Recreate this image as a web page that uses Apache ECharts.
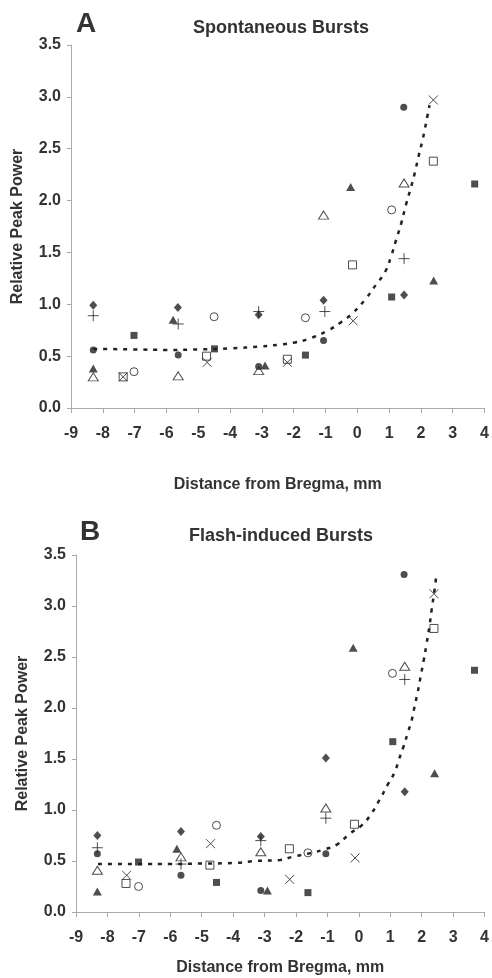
<!DOCTYPE html>
<html>
<head>
<meta charset="utf-8">
<script src="https://cdn.jsdelivr.net/npm/echarts@6/dist/echarts.min.js"></script>
<style>
  html, body { margin: 0; padding: 0; background: #fff; }
  #main { width: 492px; height: 978px; }
</style>
</head>
<body>
<div id="main"></div>
<script>
// axis ticks
var xTicks = [-9, -8, -7, -6, -5, -4, -3, -2, -1, 0, 1, 2, 3, 4];
var yTicks = [0, 0.5, 1, 1.5, 2, 2.5, 3, 3.5];

// panel A: spontaneous bursts
var aFilledCircle = [[-8.3, 0.56], [-5.63, 0.51], [-3.1, 0.40], [-1.06, 0.65], [1.46, 2.90]];
var aFilledDiamond = [[-8.3, 0.99], [-5.64, 0.97], [-3.1, 0.90], [-1.06, 1.04], [1.47, 1.09]];
var aFilledSquare = [[-7.02, 0.70], [-4.49, 0.57], [-1.63, 0.51], [1.08, 1.07], [3.69, 2.16]];
var aFilledTriangle = [[-8.3, 0.38], [-5.79, 0.85], [-2.9, 0.41], [-0.21, 2.13], [2.40, 1.23]];
var aOpenCircle = [[-7.02, 0.35], [-4.5, 0.88], [-1.63, 0.87], [1.08, 1.91]];
var aOpenTriangle = [[-8.3, 0.30], [-5.63, 0.31], [-3.1, 0.36], [-1.06, 1.86], [1.47, 2.17]];
var aOpenSquare = [[-7.36, 0.30], [-4.74, 0.50], [-2.2, 0.47], [-0.15, 1.38], [2.39, 2.38]];
var aCross = [[-7.36, 0.30], [-4.72, 0.44], [-2.2, 0.44], [-0.13, 0.84], [2.39, 2.97]];
var aPlus = [[-8.3, 0.89], [-5.63, 0.81], [-3.1, 0.93], [-1.02, 0.93], [1.47, 1.44]];
var aTrend = [[-8.3, 0.57], [-7, 0.565], [-6, 0.56], [-5, 0.565], [-4, 0.575], [-3, 0.595],
  [-2.47, 0.61], [-2, 0.63], [-1.5, 0.67], [-0.91, 0.75], [-0.5, 0.83], [-0.13, 0.92],
  [0.28, 1.06], [0.59, 1.19], [0.87, 1.31], [1.06, 1.46], [1.22, 1.62], [1.38, 1.78],
  [1.53, 1.96], [1.69, 2.13], [1.81, 2.27], [1.92, 2.42], [2.04, 2.57], [2.13, 2.70],
  [2.2, 2.81], [2.27, 2.92]];

// panel B: flash-induced bursts
var bFilledCircle = [[-8.32, 0.57], [-5.66, 0.36], [-3.12, 0.21], [-1.05, 0.57], [1.44, 3.31]];
var bFilledDiamond = [[-8.32, 0.75], [-5.66, 0.79], [-3.12, 0.74], [-1.05, 1.51], [1.46, 1.18]];
var bFilledSquare = [[-7.01, 0.49], [-4.53, 0.29], [-1.62, 0.19], [1.08, 1.67], [3.68, 2.37]];
var bFilledTriangle = [[-8.32, 0.20], [-5.79, 0.62], [-2.91, 0.21], [-0.18, 2.59], [2.41, 1.36]];
var bOpenCircle = [[-7.01, 0.25], [-4.53, 0.85], [-1.62, 0.58], [1.07, 2.34]];
var bOpenTriangle = [[-8.32, 0.41], [-5.66, 0.54], [-3.12, 0.59], [-1.05, 1.02], [1.46, 2.41]];
var bOpenSquare = [[-7.41, 0.28], [-4.74, 0.46], [-2.21, 0.62], [-0.14, 0.86], [2.39, 2.78]];
var bCross = [[-7.39, 0.36], [-4.72, 0.67], [-2.2, 0.32], [-0.12, 0.53], [2.39, 3.12]];
var bPlus = [[-8.32, 0.63], [-5.66, 0.47], [-3.12, 0.70], [-1.05, 0.92], [1.46, 2.28]];
var bTrend = [[-8.3, 0.47], [-7, 0.47], [-6, 0.47], [-5, 0.475], [-4, 0.48], [-3.28, 0.50],
  [-2.5, 0.51], [-2.12, 0.54], [-1.5, 0.58], [-1.14, 0.61], [-0.7, 0.66], [-0.28, 0.77],
  [0.09, 0.85], [0.41, 0.97], [0.66, 1.10], [0.92, 1.25], [1.14, 1.37], [1.27, 1.49],
  [1.42, 1.62], [1.55, 1.75], [1.68, 1.88], [1.77, 2.01], [1.87, 2.15], [1.96, 2.30],
  [2.06, 2.46], [2.15, 2.62], [2.24, 2.79], [2.32, 2.97], [2.40, 3.14], [2.47, 3.31]];

var ink = '#222';
var textCol = '#333';
var axisCol = '#aaa';
var FONT = 'Liberation Sans, Arial, sans-serif';

var CROSS = 'path://M0,0L10,10M10,0L0,10';
var PLUS = 'path://M5,0L5,10M0,5L10,5';

// marker styles, same for both panels
function markerSeries(idx, data, kind) {
  var s = { type: 'scatter', xAxisIndex: idx, yAxisIndex: idx, data: data, z: 3,
            emphasis: { disabled: true } };
  var filled = { color: ink, borderWidth: 0 };
  var open = { color: 'none', borderColor: ink, borderWidth: 1 };
  if (kind === 'fcircle') { s.symbol = 'circle'; s.symbolSize = 7; s.itemStyle = filled; }
  if (kind === 'fdiamond') { s.symbol = 'diamond'; s.symbolSize = [8, 9]; s.itemStyle = filled; }
  if (kind === 'fsquare') { s.symbol = 'rect'; s.symbolSize = 7; s.itemStyle = filled; }
  if (kind === 'ftriangle') { s.symbol = 'triangle'; s.symbolSize = [9, 8]; s.itemStyle = filled; }
  if (kind === 'ocircle') { s.symbol = 'circle'; s.symbolSize = 8; s.itemStyle = open; }
  if (kind === 'otriangle') { s.symbol = 'triangle'; s.symbolSize = [10, 8]; s.itemStyle = open; }
  if (kind === 'osquare') { s.symbol = 'rect'; s.symbolSize = 8; s.itemStyle = open; }
  if (kind === 'cross') { s.symbol = CROSS; s.symbolSize = 9; s.itemStyle = open; }
  if (kind === 'plus') { s.symbol = PLUS; s.symbolSize = 11; s.itemStyle = open; }
  return s;
}

function trendSeries(idx, data) {
  return { type: 'line', xAxisIndex: idx, yAxisIndex: idx, data: data, smooth: true,
           showSymbol: false, z: 2, silent: true,
           lineStyle: { color: ink, width: 2.5, type: [4, 6] } };
}

function xAxisFor(idx, gap) {
  return {
    type: 'value', gridIndex: idx, min: xTicks[0], max: xTicks[xTicks.length - 1], interval: 1,
    name: 'Distance from Bregma, mm', nameLocation: 'middle', nameGap: gap,
    nameTextStyle: { fontFamily: FONT, fontWeight: 'bold', fontSize: 16, color: textCol },
    axisLine: { onZero: false, lineStyle: { color: axisCol, width: 1 } },
    axisTick: { show: true, inside: false, length: 5, lineStyle: { color: axisCol } },
    axisLabel: { margin: 18, fontFamily: FONT, fontWeight: 'bold', fontSize: 16, color: textCol },
    splitLine: { show: false }
  };
}

function yAxisFor(idx, gap) {
  return {
    type: 'value', gridIndex: idx, min: yTicks[0], max: yTicks[yTicks.length - 1], interval: 0.5,
    name: 'Relative Peak Power', nameLocation: 'middle', nameGap: gap, nameRotate: 90,
    nameTextStyle: { fontFamily: FONT, fontWeight: 'bold', fontSize: 16, color: textCol },
    axisLine: { show: true, onZero: false, lineStyle: { color: axisCol, width: 1 } },
    axisTick: { show: true, inside: false, length: 4, lineStyle: { color: axisCol } },
    axisLabel: { margin: 10, fontFamily: FONT, fontWeight: 'bold', fontSize: 16, color: textCol,
                 formatter: function (v) { return v.toFixed(1); } },
    splitLine: { show: false }
  };
}

var chart = echarts.init(document.getElementById('main'));

var panels = [
  [aFilledCircle, aFilledDiamond, aFilledSquare, aFilledTriangle, aOpenCircle, aOpenTriangle, aOpenSquare, aCross, aPlus, aTrend],
  [bFilledCircle, bFilledDiamond, bFilledSquare, bFilledTriangle, bOpenCircle, bOpenTriangle, bOpenSquare, bCross, bPlus, bTrend]
];
var kinds = ['fcircle', 'fdiamond', 'fsquare', 'ftriangle', 'ocircle', 'otriangle', 'osquare', 'cross', 'plus'];

var series = [];
panels.forEach(function (p, idx) {
  series.push(trendSeries(idx, p[9]));
  kinds.forEach(function (k, j) { series.push(markerSeries(idx, p[j], k)); });
});

var option = {
  backgroundColor: '#fff',
  animation: false,
  grid: [
    { left: 71, top: 45, width: 416, height: 363 },
    { left: 76, top: 555, width: 411, height: 357 }
  ],
  xAxis: [xAxisFor(0, 69), xAxisFor(1, 48)],
  yAxis: [yAxisFor(0, 45), yAxisFor(1, 45)],
  graphic: [
    { type: 'text', x: 86, y: 24, style: { text: 'A', font: 'bold 28px ' + FONT, fill: textCol, align: 'center', verticalAlign: 'middle' } },
    { type: 'text', x: 281, y: 28, style: { text: 'Spontaneous Bursts', font: 'bold 18px ' + FONT, fill: textCol, align: 'center', verticalAlign: 'middle' } },
    { type: 'text', x: 90, y: 532, style: { text: 'B', font: 'bold 28px ' + FONT, fill: textCol, align: 'center', verticalAlign: 'middle' } },
    { type: 'text', x: 281, y: 536, style: { text: 'Flash-induced Bursts', font: 'bold 18px ' + FONT, fill: textCol, align: 'center', verticalAlign: 'middle' } }
  ],
  series: series
};

chart.setOption(option);
</script>
</body>
</html>
